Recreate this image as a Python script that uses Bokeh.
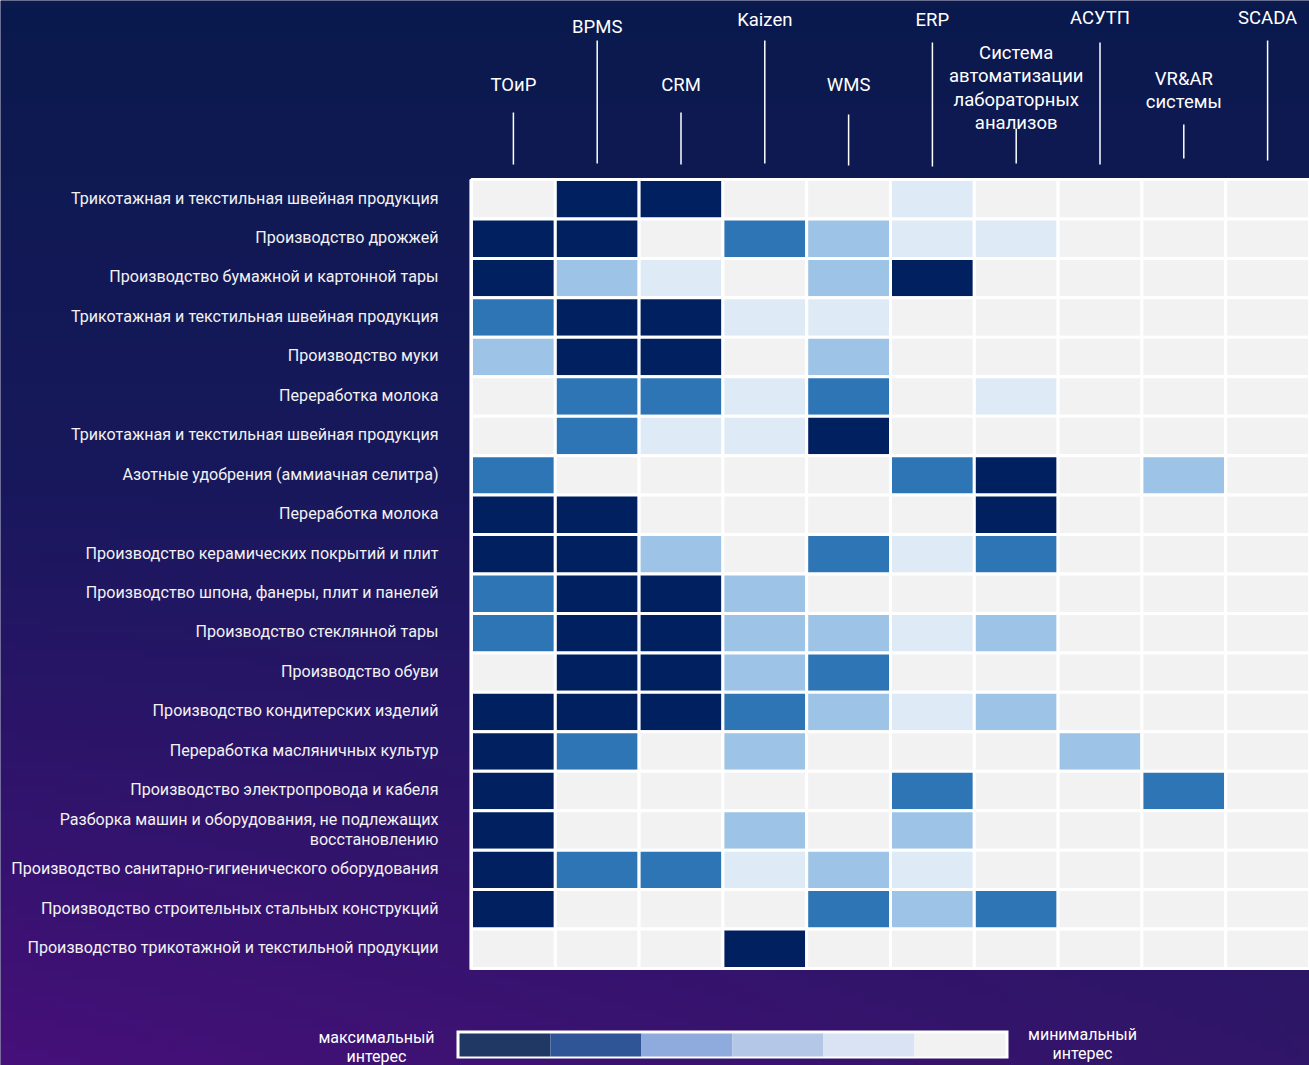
import numpy as np
from bokeh.plotting import figure
from bokeh.models import Range1d
from bokeh.core.properties import value
from bokeh.embed import file_html
from bokeh.resources import INLINE

# ---------------- data ----------------
systems = ["ТОиР", "BPMS", "CRM", "Kaizen", "WMS", "ERP",
           "Система\nавтоматизации\nлабораторных\nанализов",
           "АСУТП", "VR&AR\nсистемы", "SCADA"]

industries = [
    "Трикотажная и текстильная швейная продукция",
    "Производство дрожжей",
    "Производство бумажной и картонной тары",
    "Трикотажная и текстильная швейная продукция",
    "Производство муки",
    "Переработка молока",
    "Трикотажная и текстильная швейная продукция",
    "Азотные удобрения (аммиачная селитра)",
    "Переработка молока",
    "Производство керамических покрытий и плит",
    "Производство шпона, фанеры, плит и панелей",
    "Производство стеклянной тары",
    "Производство обуви",
    "Производство кондитерских изделий",
    "Переработка масляничных культур",
    "Производство электропровода и кабеля",
    "Разборка машин и оборудования, не подлежащих\nвосстановлению",
    "Производство санитарно-гигиенического оборудования",
    "Производство строительных стальных конструкций",
    "Производство трикотажной и текстильной продукции",
]

# interest level 0 (none) .. 4 (max), one row per industry, one column per system
levels = [
    [0, 4, 4, 0, 0, 1, 0, 0, 0, 0],
    [4, 4, 0, 3, 2, 1, 1, 0, 0, 0],
    [4, 2, 1, 0, 2, 4, 0, 0, 0, 0],
    [3, 4, 4, 1, 1, 0, 0, 0, 0, 0],
    [2, 4, 4, 0, 2, 0, 0, 0, 0, 0],
    [0, 3, 3, 1, 3, 0, 1, 0, 0, 0],
    [0, 3, 1, 1, 4, 0, 0, 0, 0, 0],
    [3, 0, 0, 0, 0, 3, 4, 0, 2, 0],
    [4, 4, 0, 0, 0, 0, 4, 0, 0, 0],
    [4, 4, 2, 0, 3, 1, 3, 0, 0, 0],
    [3, 4, 4, 2, 0, 0, 0, 0, 0, 0],
    [3, 4, 4, 2, 2, 1, 2, 0, 0, 0],
    [0, 4, 4, 2, 3, 0, 0, 0, 0, 0],
    [4, 4, 4, 3, 2, 1, 2, 0, 0, 0],
    [4, 3, 0, 2, 0, 0, 0, 2, 0, 0],
    [4, 0, 0, 0, 0, 3, 0, 0, 3, 0],
    [4, 0, 0, 2, 0, 2, 0, 0, 0, 0],
    [4, 3, 3, 1, 2, 1, 0, 0, 0, 0],
    [4, 0, 0, 0, 3, 2, 3, 0, 0, 0],
    [0, 0, 0, 4, 0, 0, 0, 0, 0, 0],
]

level_colors = ["#F2F2F2", "#DEEBF7", "#9DC3E6", "#2E75B6", "#002060"]
legend_colors = ["#203864", "#2F5597", "#8FAADC", "#B4C7E7", "#DAE3F3", "#F2F2F2"]
legend_labels = ["максимальный\nинтерес", "минимальный\nинтерес"]

# ---------------- layout ----------------
W, H = 1309, 1065
CW, RH = 83.8, 39.45          # px per column / row
LEFT, TOP = 471, 179          # heatmap origin inside the figure
NC, NR = len(systems), len(industries)

x0 = NC - W / CW
y1 = NR + TOP / RH
y0 = y1 - H / RH


def X(px):  # pixel -> data x
    return (px - LEFT) / CW


def Y(py):  # pixel -> data y
    return NR - (py - TOP) / RH


FONT = value("Roboto")

p = figure(width=W, height=H, x_range=Range1d(x0, NC), y_range=Range1d(y0, y1),
           output_backend="svg", toolbar_location=None,
           x_axis_location=None, y_axis_location=None,
           min_border=0, min_border_left=0, min_border_right=0,
           min_border_top=0, min_border_bottom=0)
p.grid.visible = False
p.outline_line_color = None
p.background_fill_color = "#1a1858"
p.border_fill_color = "#1a1858"

# background gradient (decoration); array row 0 is drawn at the bottom
gh, gw = 133, 164
t = np.linspace(1.0, 0.0, gh)[:, None, None]   # 1 at bottom row, 0 at top row
tx = np.linspace(0.0, 1.0, gw)[None, :, None]
top_c = np.array([10, 26, 77], float)
mid_c = np.array([24, 24, 92], float)
bl_c = np.array([70, 16, 122], float)
br_c = np.array([48, 22, 104], float)
bottom = bl_c * (1 - tx) + br_c * tx
rgb = np.where(t < 0.45,
               top_c * (1 - t / 0.45) + mid_c * (t / 0.45),
               mid_c * (1 - (t - 0.45) / 0.55) + bottom * ((t - 0.45) / 0.55))
rgb = np.broadcast_to(rgb, (gh, gw, 3))
img = np.empty((gh, gw), dtype=np.uint32)
view = img.view(dtype=np.uint8).reshape((gh, gw, 4))
view[..., 0] = rgb[..., 0].astype(np.uint8)
view[..., 1] = rgb[..., 1].astype(np.uint8)
view[..., 2] = rgb[..., 2].astype(np.uint8)
view[..., 3] = 255
p.image_rgba(image=[img], x=x0, y=y0, dw=NC - x0, dh=y1 - y0)

# heatmap backdrop
p.quad(left=[-0.025], right=[NC + 0.5], bottom=[-0.03], top=[NR], fill_color="white", line_color=None)

xs, ys, cs = [], [], []
for r, row in enumerate(levels):
    for c, v in enumerate(row):
        xs.append(c + 0.5)
        ys.append(NR - r - 0.5)
        cs.append(level_colors[v])
p.rect(x=xs, y=ys, width=1, height=1, fill_color=cs, line_color="white", line_width=3)

# row labels
p.text(x=[X(438)] * NR, y=[NR - r - 0.47 for r in range(NR)], text=industries,
       text_align="right", text_baseline="middle", text_font=FONT,
       text_font_size="16.1px", text_color="#F2F2F2", text_line_height=1.07)

# column labels with leader lines
label_y = [84, 26, 84, 19, 84, 19, 87.5, 17, 90, 17]
line_top = [112, 40, 112, 40, 114, 42, 128, 42, 124, 40]
line_bot = [164, 163, 164, 163, 165, 166, 163, 164, 158, 160]
cx = [c + 0.5 for c in range(NC)]
p.segment(x0=cx, y0=[Y(v) for v in line_top], x1=cx, y1=[Y(v) for v in line_bot],
          line_color="white", line_width=1.5)
p.text(x=cx, y=[Y(v) for v in label_y], text=systems, text_align="center",
       text_baseline="middle", text_font=FONT, text_font_size="18.5px",
       text_color="white", text_line_height=1.05)

# legend
lx0, lx1 = X(459), X(1005)
sw = (lx1 - lx0) / len(legend_colors)
p.quad(left=[X(456)], right=[X(1008)], bottom=[Y(1058)], top=[Y(1030)],
       fill_color="white", line_color=None)
p.quad(left=[lx0 + i * sw for i in range(len(legend_colors))],
       right=[lx0 + (i + 1) * sw for i in range(len(legend_colors))],
       bottom=[Y(1056)] * len(legend_colors), top=[Y(1033)] * len(legend_colors),
       fill_color=legend_colors, line_color=None)
p.text(x=[X(376), X(1082)], y=[Y(1046), Y(1043.5)], text=legend_labels,
       text_align="center", text_baseline="middle", text_font=FONT,
       text_font_size="16px", text_color="white", text_line_height=1.0)

open("out.html", "w").write(file_html(p, INLINE))
